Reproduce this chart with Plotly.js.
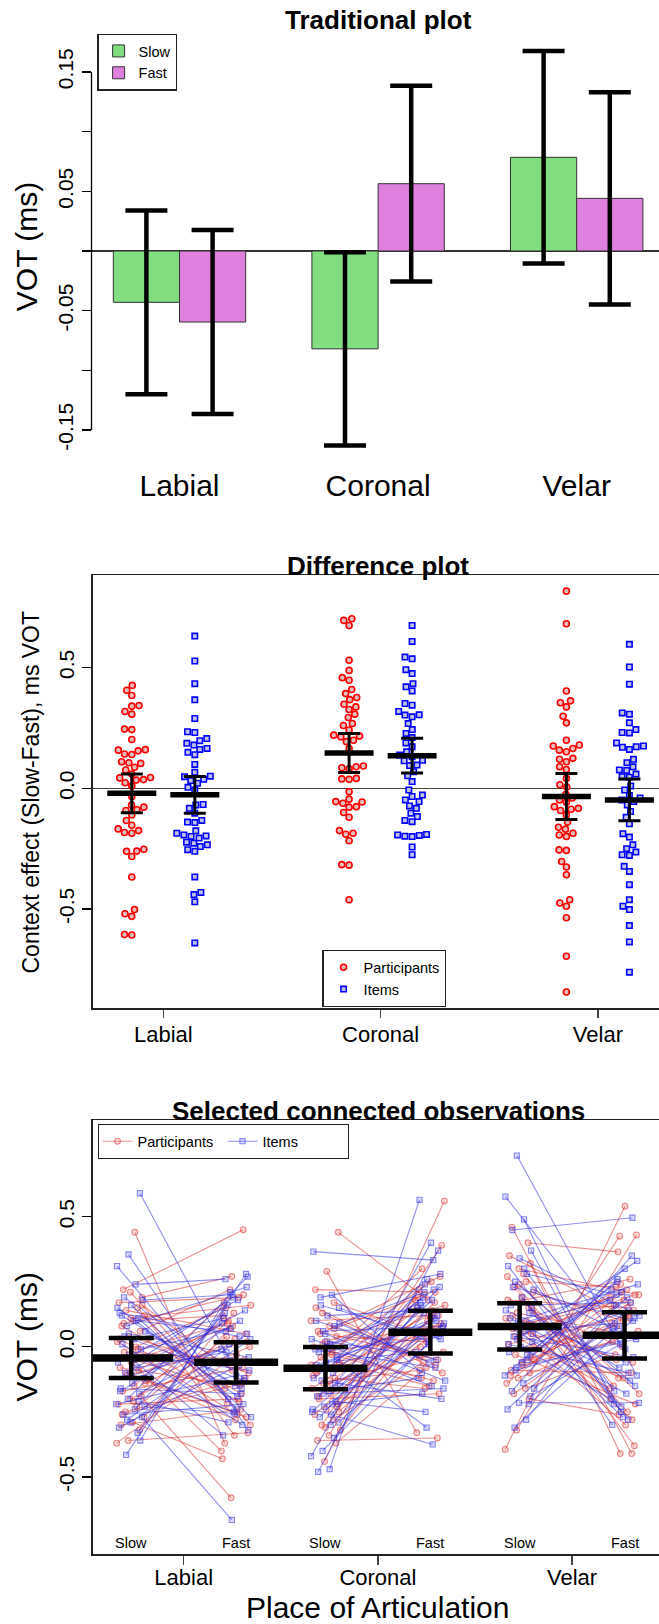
<!DOCTYPE html>
<html>
<head>
<meta charset="utf-8">
<script src="https://cdn.plot.ly/plotly-3.0.1.min.js"></script>
<style>
  html, body { margin: 0; padding: 0; overflow: hidden; background: #fff; }
  #chart { width: 680px; height: 1624px; }
</style>
</head>
<body>
<div id="chart"></div>
<script>
// ---------- data ----------
const places = ['Labial', 'Coronal', 'Velar'];

// Traditional plot: condition means with 95% CI half-widths
const slowMean = [-0.043, -0.082, 0.0785];
const fastMean = [-0.0595, 0.0564, 0.0441];
const slowCI = [0.077, 0.081, 0.089];
const fastCI = [0.077, 0.082, 0.089];

// Difference plot: per-participant and per-item context effects (Slow - Fast)
const diffP_Labial = [0.426, 0.406, 0.384, 0.343, 0.340, 0.318, 0.307, 0.243, 0.245, 0.202, 0.158, 0.155, 0.140, 0.142, 0.160, 0.106, 0.103, 0.110, 0.087, 0.076, 0.045, 0.034, 0.036, 0.043, 0.023, 0.059, 0.010, -0.034, -0.069, -0.078, -0.089, -0.092, -0.110, -0.133, -0.153, -0.175, -0.186, -0.183, -0.168, -0.252, -0.260, -0.282, -0.261, -0.367, -0.502, -0.530, -0.519, -0.607, -0.605];
const diffI_Labial = [0.630, 0.527, 0.433, 0.366, 0.289, 0.231, 0.234, 0.206, 0.197, 0.186, 0.179, 0.165, 0.161, 0.149, 0.139, 0.099, 0.066, 0.048, 0.032, 0.050, 0.037, 0.021, 0.004, -0.007, -0.069, -0.083, -0.067, -0.103, -0.133, -0.140, -0.142, -0.176, -0.186, -0.193, -0.199, -0.206, -0.197, -0.223, -0.227, -0.234, -0.241, -0.254, -0.261, -0.367, -0.431, -0.440, -0.470, -0.640];
const diffP_Coronal = [0.702, 0.695, 0.674, 0.530, 0.488, 0.458, 0.447, 0.409, 0.392, 0.376, 0.367, 0.348, 0.337, 0.326, 0.307, 0.293, 0.268, 0.260, 0.241, 0.220, 0.216, 0.213, 0.193, 0.199, 0.165, 0.092, 0.089, 0.085, 0.081, 0.041, 0.037, 0.039, -0.014, -0.045, -0.055, -0.076, -0.078, -0.062, -0.057, -0.100, -0.120, -0.175, -0.186, -0.190, -0.217, -0.318, -0.316, -0.461];
const diffI_Coronal = [0.674, 0.608, 0.536, 0.543, 0.491, 0.475, 0.433, 0.420, 0.403, 0.351, 0.344, 0.318, 0.303, 0.296, 0.304, 0.268, 0.243, 0.227, 0.210, 0.188, 0.172, 0.151, 0.138, 0.131, 0.114, 0.116, 0.094, 0.096, 0.069, 0.052, 0.028, -0.007, -0.028, -0.034, -0.048, -0.055, -0.073, -0.083, -0.103, -0.117, -0.133, -0.138, -0.191, -0.193, -0.195, -0.198, -0.200, -0.243, -0.275];
const diffP_Velar = [0.816, 0.681, 0.403, 0.362, 0.354, 0.337, 0.298, 0.271, 0.199, 0.179, 0.175, 0.158, 0.151, 0.165, 0.124, 0.120, 0.110, 0.089, 0.078, 0.041, 0.015, 0.005, -0.025, -0.040, -0.048, -0.058, -0.083, -0.076, -0.087, -0.092, -0.110, -0.140, -0.161, -0.169, -0.186, -0.193, -0.199, -0.257, -0.255, -0.303, -0.326, -0.358, -0.461, -0.475, -0.488, -0.536, -0.695, -0.843];
const diffI_Velar = [0.596, 0.502, 0.431, 0.312, 0.307, 0.271, 0.243, 0.231, 0.229, 0.188, 0.175, 0.172, 0.161, 0.170, 0.120, 0.106, 0.089, 0.076, 0.074, 0.059, 0.048, 0.046, 0.010, -0.007, -0.030, -0.040, -0.048, -0.055, -0.069, -0.096, -0.120, -0.147, -0.188, -0.202, -0.234, -0.250, -0.264, -0.275, -0.278, -0.323, -0.344, -0.399, -0.461, -0.488, -0.502, -0.568, -0.636, -0.761];

// Summary of the context effects: mean and 95% CI half-width
const diffMeanP = [-0.021, 0.146, -0.034];
const diffCIP = [0.080, 0.081, 0.095];
const diffMeanI = [-0.027, 0.135, -0.048];
const diffCII = [0.076, 0.072, 0.086];

// Connected observations: Slow and Fast VOT for the same participant / item
const slowP_Labial = [0.44, 0.22, 0.19, 0.21, 0.17, 0.15, 0.14, 0.12, 0.10, 0.08, 0.06, 0.04, 0.02, 0.00, -0.02, -0.04, -0.06, -0.08, -0.09, -0.11, -0.13, -0.15, -0.17, -0.19, -0.20, -0.22, -0.23, -0.25, -0.27, -0.29, -0.30, -0.32, -0.36, -0.37, -0.05, 0.09, 0.16, 0.11, 0.03, -0.01, -0.10, -0.14, -0.21, -0.26];
const fastP_Labial = [-0.37, 0.45, 0.27, -0.30, 0.19, -0.22, 0.05, -0.34, 0.12, -0.18, 0.22, -0.10, -0.26, 0.15, -0.05, 0.08, -0.40, -0.15, 0.10, 0.02, -0.28, 0.17, -0.08, -0.58, 0.00, -0.20, 0.04, -0.12, 0.13, -0.43, -0.24, 0.07, -0.33, -0.03, -0.16, 0.20, -0.09, 0.16, -0.21, 0.09, -0.27, 0.03, 0.11, -0.14];
const slowI_Labial = [0.59, 0.355, 0.31, 0.24, 0.19, 0.18, 0.16, 0.13, 0.11, 0.08, 0.06, 0.03, 0.01, -0.01, -0.03, -0.06, -0.08, -0.10, -0.12, -0.14, -0.16, -0.18, -0.20, -0.22, -0.24, -0.26, -0.27, -0.29, -0.31, -0.33, -0.415, -0.23, -0.05, 0.12, -0.36, 0.05, 0.15, 0.10, 0.04, -0.04, -0.11, -0.17, -0.21, -0.28];
const fastI_Labial = [-0.05, -0.32, -0.24, 0.26, -0.12, 0.20, -0.27, 0.04, -0.20, 0.23, -0.15, 0.11, -0.30, 0.07, -0.09, 0.18, -0.02, 0.14, -0.25, 0.09, -0.18, 0.01, 0.27, -0.11, 0.13, -0.22, -0.665, 0.03, -0.07, 0.16, 0.28, -0.256, -0.34, -0.16, 0.21, -0.04, -0.19, 0.06, -0.13, 0.19, -0.01, 0.10, -0.29, 0.05];
const slowP_Coronal = [0.44, 0.29, 0.22, 0.17, 0.13, 0.10, 0.08, 0.06, 0.04, 0.02, 0.00, -0.02, -0.04, -0.06, -0.08, -0.10, -0.12, -0.14, -0.16, -0.18, -0.20, -0.22, -0.24, -0.26, -0.28, -0.30, -0.32, -0.34, -0.36, -0.37, -0.44, -0.11, -0.03, 0.05, -0.25, -0.15, 0.15, 0.07, 0.01, -0.07, -0.13, -0.19, -0.23, -0.31];
const fastP_Coronal = [0.18, -0.33, 0.21, 0.05, -0.10, 0.12, -0.04, -0.05, 0.02, 0.16, -0.13, 0.30, 0.09, -0.15, 0.19, 0.07, -0.16, -0.02, 0.14, 0.00, -0.18, 0.10, 0.04, 0.17, -0.06, 0.39, 0.11, 0.22, -0.35, -0.08, 0.56, 0.13, -0.12, 0.27, 0.06, 0.15, -0.07, 0.20, 0.08, 0.25, -0.09, 0.12, 0.03, 0.18];
const slowI_Coronal = [0.366, 0.20, 0.19, 0.15, 0.12, 0.10, 0.08, 0.06, 0.03, 0.01, -0.02, -0.04, -0.06, -0.08, -0.10, -0.13, -0.15, -0.17, -0.19, -0.21, -0.23, -0.24, -0.26, -0.27, -0.29, 0.02, -0.01, -0.35, -0.40, -0.42, -0.47, -0.48, -0.05, 0.05, -0.12, -0.22, 0.16, 0.09, 0.00, -0.07, -0.14, -0.18, -0.25, -0.30];
const fastI_Coronal = [0.333, -0.10, 0.28, 0.02, 0.14, -0.05, 0.21, 0.08, -0.15, 0.17, 0.04, 0.26, -0.02, 0.11, 0.19, -0.20, 0.06, -0.12, 0.12, -0.25, 0.09, -0.375, 0.16, 0.23, 0.01, -0.03, -0.08, 0.13, 0.07, 0.40, 0.565, 0.37, -0.31, -0.13, 0.22, -0.18, 0.03, -0.06, 0.15, 0.10, 0.24, -0.16, 0.18, 0.05];
const slowP_Velar = [0.46, 0.32, 0.30, 0.27, 0.25, 0.23, 0.21, 0.19, 0.17, 0.15, 0.13, 0.11, 0.09, 0.07, 0.05, 0.03, 0.01, -0.01, -0.03, -0.05, -0.07, -0.09, -0.10, -0.12, -0.14, -0.16, -0.18, 0.14, 0.08, 0.35, 0.40, -0.32, -0.394, 0.28, 0.12, -0.04, 0.24, 0.18, 0.10, 0.04, 0.00, -0.06, -0.11, -0.20];
const fastP_Velar = [-0.41, -0.41, 0.20, -0.25, 0.23, -0.38, 0.10, -0.20, 0.26, -0.12, 0.04, -0.30, 0.16, -0.06, 0.21, -0.16, 0.12, 0.08, -0.22, 0.18, 0.02, -0.10, 0.425, 0.06, 0.22, -0.03, 0.14, 0.00, 0.19, 0.11, 0.365, 0.43, 0.54, -0.15, -0.28, 0.24, -0.18, 0.15, -0.05, 0.20, -0.12, 0.09, 0.17, -0.26];
const slowI_Velar = [0.735, 0.577, 0.49, 0.449, 0.37, 0.34, 0.31, 0.28, 0.25, 0.22, 0.19, 0.16, 0.13, 0.10, 0.08, 0.06, 0.04, 0.02, 0.00, -0.02, -0.05, -0.08, -0.11, -0.14, -0.17, -0.19, -0.215, -0.24, -0.28, -0.31, 0.05, -0.06, 0.11, -0.22, 0.03, 0.14, 0.30, 0.23, 0.15, 0.09, 0.01, -0.03, -0.09, -0.16];
const fastI_Velar = [-0.11, -0.01, -0.22, 0.496, -0.25, 0.12, -0.28, 0.20, -0.15, 0.05, -0.30, 0.17, -0.08, 0.24, -0.18, 0.09, -0.04, 0.21, -0.20, 0.14, 0.26, 0.03, 0.30, 0.07, 0.35, 0.01, -0.215, 0.19, 0.16, 0.11, -0.27, 0.22, -0.13, 0.08, 0.33, -0.06, -0.17, 0.10, -0.23, 0.18, -0.10, 0.25, 0.04, 0.13];

// ---------- geometry (pixels in a 680 x 1624 figure) ----------
const W = 680, H = 1624;
const px = v => v / W;
const py = v => 1 - v / H;
// frames: [left, right, top, bottom]
const F1 = [91.5, 663.5, 40, 460];
const F2 = [92.7, 680, 575, 1008.3];
const F3 = [92.7, 680, 1120, 1554.3];

// axis scales (px per data unit) and anchors
const X1_UNIT = 198.6, X1_C0 = 179.5;
const Y1_UNIT = 1193.3, Y1_ZERO = 251;
const X2_UNIT = 217.3, X2_C1 = 163.3;
const Y2_UNIT = 241.6, Y2_ZERO = 788.3;
const X3_UNIT = 194.2, X3_C1 = 183.7;
const Y3_UNIT = 260.3, Y3_ZERO = 1346.85;

const FONT = 'Liberation Sans, Arial, Helvetica, sans-serif';

// Bee-swarm layout: horizontal pixel offsets so that markers do not overlap
function swarmOffsets(vals, diam, yScale) {
  const order = vals.map((v, i) => i).sort((a, b) => vals[a] - vals[b]);
  const placed = [];
  const off = new Array(vals.length).fill(0);
  order.forEach(i => {
    const y = vals[i] * yScale;
    const ivs = [];
    placed.forEach(p => {
      const dy = Math.abs(p.y - y);
      if (dy < diam) {
        const dx = Math.sqrt(diam * diam - dy * dy);
        ivs.push([p.x - dx, p.x + dx]);
      }
    });
    const cands = [0];
    ivs.forEach(iv => cands.push(iv[0], iv[1]));
    cands.sort((a, b) => Math.abs(a) - Math.abs(b));
    let best = 0;
    for (const c of cands) {
      if (ivs.every(iv => c <= iv[0] + 1e-6 || c >= iv[1] - 1e-6)) { best = c; break; }
    }
    placed.push({ x: best, y });
    off[i] = best;
  });
  return off;
}

const traces = [];

// ---------- panel 1: bars ----------
traces.push({
  type: 'bar', x: places, y: slowMean, name: 'Slow', xaxis: 'x', yaxis: 'y', legend: 'legend',
  marker: { color: '#80DE80', line: { color: '#333', width: 1 } },
  error_y: { type: 'data', array: slowCI, color: '#000', thickness: 4.5, width: 21 }
});
traces.push({
  type: 'bar', x: places, y: fastMean, name: 'Fast', xaxis: 'x', yaxis: 'y', legend: 'legend',
  marker: { color: '#DF80DF', line: { color: '#333', width: 1 } },
  error_y: { type: 'data', array: fastCI, color: '#000', thickness: 4.5, width: 21 }
});

// ---------- panel 2: differences ----------
const P_SHIFT = 0.145;
function swarmTrace(groups, shift, name, symbol, fill, stroke, size) {
  const xs = [], ys = [];
  groups.forEach((vals, k) => {
    const off = swarmOffsets(vals, 7.3, Y2_UNIT);
    vals.forEach((v, i) => { xs.push(k + 1 + shift + off[i] / X2_UNIT); ys.push(v); });
  });
  return {
    type: 'scatter', mode: 'markers', x: xs, y: ys, name, xaxis: 'x2', yaxis: 'y2', legend: 'legend2',
    marker: { symbol, size, color: fill, line: { color: stroke, width: 1.6 } }
  };
}
traces.push(swarmTrace([diffP_Labial, diffP_Coronal, diffP_Velar], -P_SHIFT, 'Participants', 'circle', '#E8BCBC', '#FF0000', 6));
traces.push(swarmTrace([diffI_Labial, diffI_Coronal, diffI_Velar], P_SHIFT, 'Items', 'square', '#C2C2EA', '#0000FF', 5.4));

function meanTrace(xa, ya, shift, means, ci, barLen, barW, errW, capW) {
  return {
    type: 'scatter', mode: 'markers', xaxis: xa, yaxis: ya, showlegend: false, hoverinfo: 'skip',
    x: means.map((m, k) => k + 1 + shift), y: means,
    marker: { symbol: 'line-ew', size: barLen, color: '#000', line: { color: '#000', width: barW } },
    error_y: { type: 'data', array: ci, color: '#000', thickness: errW, width: capW }
  };
}
traces.push(meanTrace('x2', 'y2', -P_SHIFT, diffMeanP, diffCIP, 35, 5.5, 3, 11));
traces.push(meanTrace('x2', 'y2', P_SHIFT, diffMeanI, diffCII, 35, 5.5, 3, 11));

// ---------- panel 3: connected observations ----------
const C_SHIFT = 0.27;
const JIT_PX = 15;
function jitter(i, side, k, g) {
  const u = ((i + 1) * 0.6180339887 + side * 0.5 + k * 0.31 + g * 0.17) % 1;
  return (u - 0.5) * 2 * JIT_PX / X3_UNIT;
}
function connected(slowGroups, fastGroups, g, name, symbol, stroke, fill, size) {
  slowGroups.forEach((slow, k) => {
    const fast = fastGroups[k];
    slow.forEach((s, i) => {
      traces.push({
        type: 'scatter', mode: 'lines+markers', xaxis: 'x3', yaxis: 'y3', legend: 'legend3',
        name, legendgroup: name, showlegend: k === 0 && i === 0, hoverinfo: 'skip',
        x: [k + 1 - C_SHIFT + jitter(i, 0, k, g), k + 1 + C_SHIFT + jitter(i, 1, k, g)],
        y: [s, fast[i]],
        line: { color: stroke, width: 1.1 },
        marker: { symbol, size, color: fill, line: { color: stroke, width: 1.1 } }
      });
    });
  });
}
connected([slowP_Labial, slowP_Coronal, slowP_Velar], [fastP_Labial, fastP_Coronal, fastP_Velar], 0,
  'Participants', 'circle', 'rgba(215,40,40,0.52)', 'rgba(230,90,90,0.2)', 5.8);
connected([slowI_Labial, slowI_Coronal, slowI_Velar], [fastI_Labial, fastI_Coronal, fastI_Velar], 1,
  'Items', 'square', 'rgba(40,40,225,0.52)', 'rgba(90,90,240,0.2)', 5.2);

traces.push(meanTrace('x3', 'y3', -C_SHIFT, slowMean, slowCI, 60, 7.5, 4.5, 22.5));
traces.push(meanTrace('x3', 'y3', C_SHIFT, fastMean, fastCI, 60, 7.5, 4.5, 22.5));

// ---------- layout ----------
const yTick = { tickangle: -90, ticks: 'outside', ticklen: 9, tickwidth: 1.3, tickcolor: '#000',
  tickfont: { size: 21, family: FONT }, showgrid: false, fixedrange: true };
const boxAxis = { showline: true, mirror: true, linecolor: '#222', linewidth: 1.3 };

const layout = {
  width: W, height: H,
  margin: { l: 0, r: 0, t: 0, b: 0 },
  paper_bgcolor: '#fff', plot_bgcolor: '#fff',
  font: { family: FONT, color: '#000' },
  barmode: 'group', bargap: 1 / 3, bargroupgap: 0,
  xaxis: {
    domain: [px(F1[0]), px(F1[1])], anchor: 'y', type: 'category',
    range: [(F1[0] - X1_C0) / X1_UNIT, (F1[1] - X1_C0) / X1_UNIT],
    ticks: '', showline: false, showgrid: false, zeroline: false, ticklabelstandoff: 5,
    tickfont: { size: 30, family: FONT }, fixedrange: true
  },
  yaxis: Object.assign({}, yTick, {
    domain: [py(F1[3]), py(F1[2])], anchor: 'x',
    range: [(Y1_ZERO - F1[3]) / Y1_UNIT, (Y1_ZERO - F1[2]) / Y1_UNIT],
    tickvals: [-0.15, -0.10, -0.05, 0, 0.05, 0.10, 0.15],
    ticktext: ['-0.15', '', '-0.05', '', '0.05', '', '0.15'],
    showline: false, zeroline: true, zerolinecolor: '#333', zerolinewidth: 1.2
  }),
  xaxis2: Object.assign({}, boxAxis, {
    domain: [px(F2[0]), px(F2[1])], anchor: 'y2',
    range: [1 + (F2[0] - X2_C1) / X2_UNIT, 1 + (F2[1] - X2_C1) / X2_UNIT],
    tickvals: [1, 2, 3], ticktext: places, ticks: 'outside', ticklen: 8, tickwidth: 1.3,
    ticklabelstandoff: -2,
    tickfont: { size: 22, family: FONT }, showgrid: false, zeroline: false, fixedrange: true
  }),
  yaxis2: Object.assign({}, yTick, boxAxis, {
    domain: [py(F2[3]), py(F2[2])], anchor: 'x2',
    range: [(Y2_ZERO - F2[3]) / Y2_UNIT, (Y2_ZERO - F2[2]) / Y2_UNIT],
    tickvals: [-0.5, 0, 0.5], ticktext: ['-0.5', '0.0', '0.5'],
    zeroline: true, zerolinecolor: '#444', zerolinewidth: 1.3
  }),
  xaxis3: Object.assign({}, boxAxis, {
    domain: [px(F3[0]), px(F3[1])], anchor: 'y3',
    range: [1 + (F3[0] - X3_C1) / X3_UNIT, 1 + (F3[1] - X3_C1) / X3_UNIT],
    tickvals: [1, 2, 3], ticktext: places, ticks: 'outside', ticklen: 9, tickwidth: 1.3,
    ticklabelstandoff: -6,
    tickfont: { size: 22, family: FONT }, showgrid: false, zeroline: false, fixedrange: true
  }),
  yaxis3: Object.assign({}, yTick, boxAxis, {
    domain: [py(F3[3]), py(F3[2])], anchor: 'x3',
    range: [(Y3_ZERO - F3[3]) / Y3_UNIT, (Y3_ZERO - F3[2]) / Y3_UNIT],
    tickvals: [-0.5, 0, 0.5], ticktext: ['-0.5', '0.0', '0.5'], zeroline: false
  }),
  legend: {
    x: px(97.3), y: py(33.7), xanchor: 'left', yanchor: 'top', bgcolor: '#fff',
    bordercolor: '#222', borderwidth: 1.3, font: { size: 14.5, family: FONT }, traceorder: 'normal'
  },
  legend2: {
    x: px(322.3), y: py(950), xanchor: 'left', yanchor: 'top', bgcolor: '#fff',
    bordercolor: '#222', borderwidth: 1.3, font: { size: 14.5, family: FONT }, traceorder: 'normal'
  },
  legend3: {
    x: px(97.5), y: py(1124), xanchor: 'left', yanchor: 'top', bgcolor: '#fff', orientation: 'h',
    entrywidth: 80, bordercolor: '#222', borderwidth: 1.3, font: { size: 14.5, family: FONT }
  },
  shapes: [
    // y axis line of the bar panel spans only the tick range
    { type: 'line', xref: 'paper', yref: 'y', x0: px(F1[0]), x1: px(F1[0]), y0: -0.15, y1: 0.15,
      line: { color: '#000', width: 1.3 } }
  ],
  annotations: []
};

const ann = layout.annotations;
function label(text, xPx, yPx, size, opts) {
  ann.push(Object.assign({
    text, xref: 'paper', yref: 'paper', x: px(xPx), y: py(yPx), xanchor: 'center', yanchor: 'middle',
    showarrow: false, font: { size, family: FONT, color: '#000' }
  }, opts || {}));
}
label('<b>Traditional plot</b>', 378, 20, 26);
label('<b>Difference plot</b>', 378, 566.3, 26);
label('<b>Selected connected observations</b>', 378, 1110.7, 26);
label('VOT (ms)', 26, 247.2, 30, { textangle: -90 });
label('Context effect (Slow-Fast), ms VOT', 30, 792.5, 23, { textangle: -90 });
label('VOT (ms)', 26, 1337.5, 30, { textangle: -90 });
label('Place of Articulation', 377.7, 1607.5, 30);

// condition labels under each place in the connected panel
places.forEach((p, k) => {
  ['Slow', 'Fast'].forEach((c, j) => {
    ann.push({
      text: c, xref: 'x3', yref: 'paper', x: k + 1 + (j === 0 ? -C_SHIFT : C_SHIFT), y: py(1543.3),
      xanchor: 'center', yanchor: 'middle', showarrow: false, font: { size: 14.5, family: FONT, color: '#000' }
    });
  });
});

Plotly.newPlot('chart', traces, layout, { displayModeBar: false, staticPlot: true, responsive: false });
</script>
</body>
</html>
